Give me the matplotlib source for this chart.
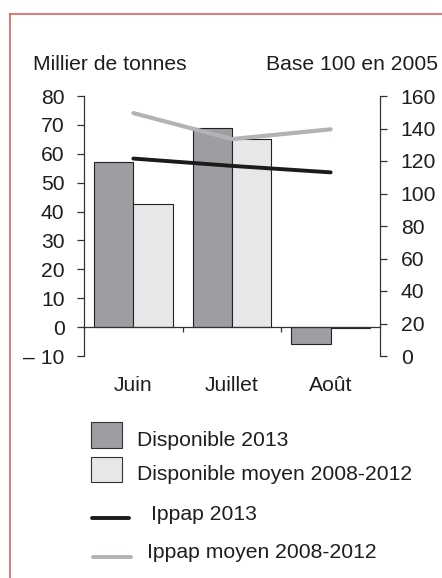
import matplotlib.pyplot as plt
from matplotlib.patches import Rectangle
from matplotlib.lines import Line2D

plt.rcParams["font.family"] = ["Liberation Sans", "DejaVu Sans"]

# ---------------------------------------------------
# DATA
# ---------------------------------------------------

mois = ["Juin", "Juillet", "Août"]
dispo_2013 = [57.1, 68.9, -5.8]
dispo_moyen = [42.5, 65.2, -0.3]
ippap_2013 = [121.5, 117.0, 113.0]
ippap_moyen = [149.5, 133.5, 139.5]

left_ticks = [-10, 0, 10, 20, 30, 40, 50, 60, 70, 80]
left_labels = ["\u2013 10"] + [str(v) for v in left_ticks[1:]]
right_ticks = [0, 20, 40, 60, 80, 100, 120, 140, 160]

legend_labels = ["Disponible 2013", "Disponible moyen 2008-2012",
                 "Ippap 2013", "Ippap moyen 2008-2012"]

# ---------------------------------------------------
# STYLE
# ---------------------------------------------------

dark = "#9d9ea2"
light = "#e6e7e9"
black_line = "#1b1b1b"
gray_line = "#b2b3b5"
axis_col = "#333333"
txt_col = "#1e1e1e"
red = "#d9534f"
fs = 15.2

W, H = 442, 578
fig = plt.figure(figsize=(W / 100, H / 100), dpi=100)

# red frame
fig.add_artist(Line2D([10 / W, 1.0], [1 - 14 / H, 1 - 14 / H], color=red, lw=1.1))
fig.add_artist(Line2D([10 / W, 10 / W], [0, 1 - 14 / H], color=red, lw=1.1))

ax = fig.add_axes([84 / W, 1 - 356 / H, 296 / W, 260 / H])
x = list(range(len(mois)))

ax.bar([i - 0.2 for i in x], dispo_2013, width=0.4, color=dark,
       edgecolor="#222222", linewidth=0.8, zorder=2)
ax.bar([i + 0.2 for i in x], dispo_moyen, width=0.4, color=light,
       edgecolor="#222222", linewidth=0.8, zorder=2)

ax.set_xlim(-0.5, 2.5)
ax.set_ylim(-10, 80)
ax.set_yticks(left_ticks)
ax.set_yticklabels(left_labels)
ax.set_xticks([0.5, 1.5])
ax.set_xticklabels([])

for s in ["top", "right"]:
    ax.spines[s].set_visible(False)
ax.spines["bottom"].set_position(("data", 0))
for s in ["left", "bottom"]:
    ax.spines[s].set_color(axis_col)
    ax.spines[s].set_linewidth(0.9)

ax.tick_params(axis="y", direction="out", length=5, width=0.9,
               color=axis_col, labelsize=fs, labelcolor=txt_col, pad=9)
ax.tick_params(axis="x", direction="out", length=3.5, width=0.9,
               color=axis_col)
ax.patch.set_visible(False)

for i, m in enumerate(mois):
    ax.text(i, -0.115, m, transform=ax.get_xaxis_transform(),
            ha="center", va="center", fontsize=fs, color=txt_col)

ax2 = ax.twinx()
ax2.plot(x, ippap_moyen, color=gray_line, lw=3.0, solid_capstyle="round", zorder=3)
ax2.plot(x, ippap_2013, color=black_line, lw=2.8, solid_capstyle="round", zorder=4)
ax2.set_ylim(0, 160)
ax2.set_yticks(right_ticks)
for s in ["top", "left", "bottom"]:
    ax2.spines[s].set_visible(False)
ax2.spines["right"].set_color(axis_col)
ax2.spines["right"].set_linewidth(0.9)
ax2.tick_params(axis="y", direction="out", length=5, width=0.9,
                color=axis_col, labelsize=fs, labelcolor=txt_col, pad=10)

fig.text(33 / W, 1 - 64 / H, "Millier de tonnes", ha="left", va="center",
         fontsize=fs, color=txt_col)
fig.text(438 / W, 1 - 64 / H, "Base 100 en 2005", ha="right", va="center",
         fontsize=fs, color=txt_col)

# ---------------------------------------------------
# LEGEND (drawn by hand)
# ---------------------------------------------------

fig.add_artist(Rectangle((91 / W, 1 - 448 / H), 31 / W, 26 / H,
                         facecolor=dark, edgecolor="#333333", lw=0.8))
fig.add_artist(Rectangle((91 / W, 1 - 482 / H), 31 / W, 25 / H,
                         facecolor=light, edgecolor="#333333", lw=0.8))
fig.add_artist(Line2D([92 / W, 129 / W], [1 - 518 / H, 1 - 518 / H],
                      color=black_line, lw=2.8, solid_capstyle="round"))
fig.add_artist(Line2D([93 / W, 131 / W], [1 - 557 / H, 1 - 557 / H],
                      color=gray_line, lw=2.8, solid_capstyle="round"))

fig.text(137 / W, 1 - 441 / H, legend_labels[0], va="center", fontsize=fs, color=txt_col)
fig.text(137 / W, 1 - 474 / H, legend_labels[1], va="center", fontsize=fs, color=txt_col)
fig.text(151 / W, 1 - 514 / H, legend_labels[2], va="center", fontsize=fs, color=txt_col)
fig.text(147 / W, 1 - 552 / H, legend_labels[3], va="center", fontsize=fs, color=txt_col)

fig.savefig("out.png", dpi=100)
